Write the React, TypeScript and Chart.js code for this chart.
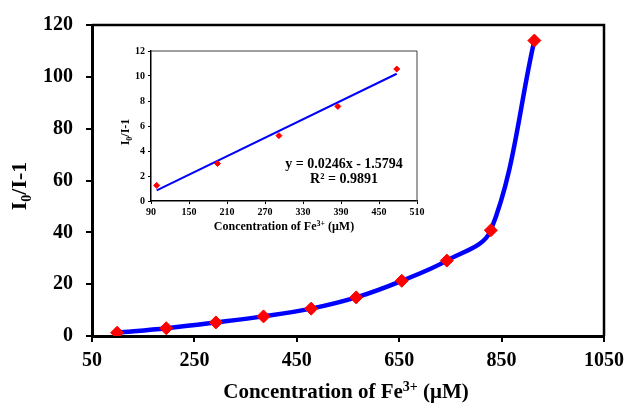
import React, { useEffect, useRef } from "react";
import { Chart, registerables } from "chart.js";

Chart.register(...registerables);

// Fe3+ concentration (μM) and quenching ratio I0/I - 1
const concentration = [99, 195, 292, 385, 478, 566, 655, 743, 829, 914];
const quenching = [1.25, 3.0, 5.23, 7.57, 10.56, 14.9, 21.3, 29.1, 40.8, 114];

// the linear region shown in the inset and its least-squares fit
const linearCount = 5;
const fitSlope = 0.0246;
const fitIntercept = -1.5794;
const fitR2 = 0.9891;

const mainXRange = [50, 1050];
const mainXStep = 200;
const mainYRange = [0, 120];
const mainYStep = 20;
const insetXRange = [90, 510];
const insetXStep = 60;
const insetYRange = [0, 12];
const insetYStep = 2;

const SERIF = "'Liberation Serif', 'Times New Roman', serif";

type Seg = [string, "n" | "sub" | "sup"];

const yTitle: Seg[] = [["I", "n"], ["0", "sub"], ["/I-1", "n"]];
const xTitle: Seg[] = [
  ["Concentration of Fe", "n"],
  ["3+", "sup"],
  [" (μM)", "n"],
];

function drawRich(
  ctx: CanvasRenderingContext2D,
  segs: Seg[],
  size: number,
  x: number,
  y: number,
  vertical = false
) {
  ctx.save();
  ctx.translate(x, y);
  if (vertical) ctx.rotate(-Math.PI / 2);
  ctx.fillStyle = "#000";
  ctx.textBaseline = "alphabetic";
  ctx.textAlign = "left";
  const fontFor = (s: Seg) =>
    `bold ${s[1] === "n" ? size : Math.round(size * 0.65)}px ${SERIF}`;
  let total = 0;
  for (const s of segs) {
    ctx.font = fontFor(s);
    total += ctx.measureText(s[0]).width;
  }
  let cx = -total / 2;
  const base = size * 0.34;
  for (const s of segs) {
    ctx.font = fontFor(s);
    const dy = s[1] === "sub" ? size * 0.22 : s[1] === "sup" ? -size * 0.36 : 0;
    ctx.fillText(s[0], cx, base + dy);
    cx += ctx.measureText(s[0]).width;
  }
  ctx.restore();
}

function framePlugin(id: string, topRightWidth: number, color: string) {
  return {
    id,
    afterDraw(chart: Chart) {
      const { ctx, chartArea: a } = chart;
      ctx.save();
      ctx.strokeStyle = color;
      ctx.lineWidth = topRightWidth;
      ctx.beginPath();
      ctx.moveTo(a.left, a.top);
      ctx.lineTo(a.right, a.top);
      ctx.lineTo(a.right, a.bottom);
      ctx.stroke();
      ctx.restore();
    },
  };
}

const plainNumber = (v: number | string) => String(v);

function MainChart() {
  const ref = useRef<HTMLCanvasElement>(null);
  useEffect(() => {
    const canvas = ref.current!;
    const points = concentration.map((c, i) => ({ x: c, y: quenching[i] }));
    const titles = {
      id: "mainTitles",
      afterDraw(chart: Chart) {
        const ctx = chart.ctx;
        drawRich(ctx, yTitle, 22, 19, 186, true);
        drawRich(ctx, xTitle, 21, 346, 391);
      },
    };
    const chart = new Chart(canvas, {
      type: "line",
      data: {
        datasets: [
          {
            data: points,
            borderColor: "#0000FF",
            borderWidth: 4.5,
            tension: 0.35,
            pointStyle: "rectRot",
            pointRadius: 6.5,
            pointBackgroundColor: "#FF0000",
            pointBorderColor: "#FF0000",
            pointBorderWidth: 1,
          },
        ],
      },
      options: {
        animation: false,
        responsive: false,
        devicePixelRatio: 1,
        layout: { padding: { top: 23, right: 23, left: 0, bottom: 0 } },
        plugins: { legend: { display: false }, tooltip: { enabled: false } },
        scales: {
          x: {
            type: "linear",
            min: mainXRange[0],
            max: mainXRange[1],
            afterFit: (s: any) => {
              s.height = 70;
            },
            ticks: {
              stepSize: mainXStep,
              color: "#000",
              padding: 7,
              callback: plainNumber,
              font: { family: SERIF, size: 20, weight: "bold" },
            },
            grid: {
              display: true,
              drawOnChartArea: false,
              drawTicks: true,
              tickLength: 6,
              lineWidth: 2,
              color: "#000",
            },
            border: { display: true, color: "#000", width: 3 },
          },
          y: {
            type: "linear",
            min: mainYRange[0],
            max: mainYRange[1],
            afterFit: (s: any) => {
              s.width = 92;
            },
            ticks: {
              stepSize: mainYStep,
              color: "#000",
              padding: 13,
              callback: plainNumber,
              font: { family: SERIF, size: 20, weight: "bold" },
            },
            grid: {
              display: true,
              drawOnChartArea: false,
              drawTicks: true,
              tickLength: 6,
              lineWidth: 2,
              color: "#000",
            },
            border: { display: true, color: "#000", width: 3 },
          },
        },
      },
      plugins: [framePlugin("mainFrame", 2.5, "#000"), titles],
    } as any);
    return () => chart.destroy();
  }, []);
  return <canvas ref={ref} width={631} height={406} style={{ position: "absolute", left: 0, top: 0 }} />;
}

const INSET_LEFT = 100;
const INSET_TOP = 35;

function InsetChart() {
  const ref = useRef<HTMLCanvasElement>(null);
  useEffect(() => {
    const canvas = ref.current!;
    const xs = concentration.slice(0, linearCount);
    const points = xs.map((c, i) => ({ x: c, y: quenching[i] }));
    const fitEnds = [xs[0], xs[xs.length - 1]].map((x) => ({
      x,
      y: fitSlope * x + fitIntercept,
    }));
    const sign = fitIntercept < 0 ? "-" : "+";
    const equation = `y = ${fitSlope.toFixed(4)}x ${sign} ${Math.abs(fitIntercept).toFixed(4)}`;
    const rSquared = `R² = ${fitR2.toFixed(4)}`;
    const texts = {
      id: "insetTexts",
      afterDraw(chart: Chart) {
        const ctx = chart.ctx;
        drawRich(ctx, yTitle, 12, 125 - INSET_LEFT, 132 - INSET_TOP, true);
        drawRich(ctx, xTitle, 12, 284 - INSET_LEFT, 226 - INSET_TOP);
        drawRich(ctx, [[equation, "n"]], 14, 344 - INSET_LEFT, 163 - INSET_TOP);
        drawRich(ctx, [[rSquared, "n"]], 14, 344 - INSET_LEFT, 178 - INSET_TOP);
      },
    };
    const chart = new Chart(canvas, {
      type: "line",
      data: {
        datasets: [
          {
            data: points,
            showLine: false,
            pointStyle: "rectRot",
            pointRadius: 3,
            pointBackgroundColor: "#FF0000",
            pointBorderColor: "#FF0000",
            pointBorderWidth: 1,
            order: 0,
          },
          {
            data: fitEnds,
            borderColor: "#0000FF",
            borderWidth: 2,
            pointRadius: 0,
            tension: 0,
            order: 1,
          },
        ],
      },
      options: {
        animation: false,
        responsive: false,
        devicePixelRatio: 1,
        layout: { padding: { top: 16, right: 13, left: 0, bottom: 0 } },
        plugins: { legend: { display: false }, tooltip: { enabled: false } },
        scales: {
          x: {
            type: "linear",
            min: insetXRange[0],
            max: insetXRange[1],
            afterFit: (s: any) => {
              s.height = 34;
            },
            ticks: {
              stepSize: insetXStep,
              color: "#000",
              padding: 2,
              callback: plainNumber,
              font: { family: SERIF, size: 10, weight: "bold" },
            },
            grid: {
              display: true,
              drawOnChartArea: false,
              drawTicks: true,
              tickLength: 3,
              lineWidth: 1,
              color: "#000",
            },
            border: { display: true, color: "#000", width: 1.5 },
          },
          y: {
            type: "linear",
            min: insetYRange[0],
            max: insetYRange[1],
            afterFit: (s: any) => {
              s.width = 51;
            },
            ticks: {
              stepSize: insetYStep,
              color: "#000",
              padding: 3,
              callback: plainNumber,
              font: { family: SERIF, size: 10, weight: "bold" },
            },
            grid: {
              display: true,
              drawOnChartArea: false,
              drawTicks: true,
              tickLength: 3,
              lineWidth: 1,
              color: "#000",
            },
            border: { display: true, color: "#000", width: 1.5 },
          },
        },
      },
      plugins: [framePlugin("insetFrame", 1, "#404040"), texts],
    } as any);
    return () => chart.destroy();
  }, []);
  return (
    <canvas
      ref={ref}
      width={330}
      height={200}
      style={{ position: "absolute", left: INSET_LEFT, top: INSET_TOP }}
    />
  );
}

export default function App() {
  useEffect(() => {
    document.body.style.margin = "0";
  }, []);
  return (
    <div style={{ position: "relative", width: 631, height: 406, background: "#fff" }}>
      <MainChart />
      <InsetChart />
    </div>
  );
}
